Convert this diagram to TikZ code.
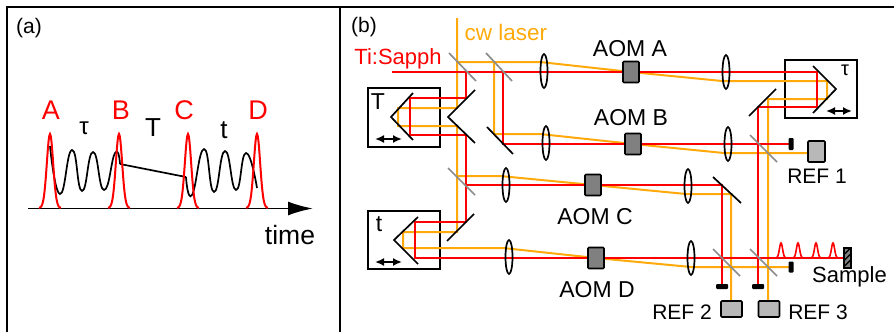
\documentclass[tikz,border=0pt]{standalone}
\usepackage{fontspec}
\setmainfont{Liberation Sans}
\usetikzlibrary{shapes.geometric,arrows.meta}

\tikzstyle{invisible} = [outer sep=0,inner sep=0,minimum size=0]
\tikzstyle{redbeam} = [draw=red, line width=2pt, line join=miter]
\tikzstyle{cwbeam} = [draw=orange1, line width=2pt, line join=miter]
\tikzstyle{pulse} = [draw=red, line width=2pt]
\tikzstyle{mirror} = [draw=black, line width=1.7pt]
\tikzstyle{splitter} = [draw=gray2, line width=1.7pt]
\tikzstyle{lens} = [draw=black, line width=1.7pt, ellipse, invisible, minimum width=7pt, minimum height=34pt]
\tikzstyle{aom} = [draw=black, fill=gray1, line width=1.7pt, rounded corners=1pt, invisible, minimum width=16pt, minimum height=21pt]
\tikzstyle{ref} = [draw=black, fill=gray3, line width=1.7pt, rounded corners=1pt, invisible]
\tikzstyle{stage} = [draw=black, line width=1.7pt, invisible]
\tikzstyle{dump} = [fill=black, rounded corners=1pt, invisible]
\tikzstyle{slide} = [{Latex[length=9pt,width=8pt]}-{Latex[length=9pt,width=8pt]}, draw=black, line width=1.7pt]
\definecolor{orange1}{RGB}{255,170,10}
\definecolor{gray1}{RGB}{128,128,128}
\definecolor{gray2}{RGB}{140,140,140}
\definecolor{gray3}{RGB}{184,184,184}

\begin{document}
\begin{tikzpicture}[x=1pt,y=-1pt]
\useasboundingbox (0,0) rectangle (894,332);

% PANELS
\draw[line width=1.9pt] (7,332) -- (7,7) -- (894,7);
\draw[line width=1.9pt] (340,7) -- (340,332);
\node at (29,28) {\fontsize{21pt}{24pt}\selectfont (a)};
\node at (364,27) {\fontsize{21pt}{24pt}\selectfont (b)};

% PANEL A
\coordinate (axis0) at (28,208.5);
\coordinate (axis1) at (313,208.5);
\draw[line width=1.8pt, -{Latex[length=25pt,width=14pt]}] (axis0) -- (axis1);
\draw[line width=1.7pt] plot[smooth, tension=0.9] coordinates {(50,146) (60,194) (72,150) (82,191) (93,152) (104,190) (115,153) (120,164)};
\draw[line width=1.7pt] (120,164) -- (186,177);
\draw[line width=1.7pt] plot[smooth, tension=0.9] coordinates {(186,177) (192,195) (204,149) (214,192) (225,151) (236,190) (246,153) (257,188)};
\foreach \px in {50,119,188,257}
  \draw[pulse] plot[domain=-11:11, samples=35, smooth] ({\px+\x},{208-74*exp(-(\x*\x)/20)});
\node[red] (pulseA) at (51,110) {\fontsize{27pt}{30pt}\selectfont A};
\node[red] (pulseB) at (121,110) {\fontsize{27pt}{30pt}\selectfont B};
\node[red] (pulseC) at (184,110) {\fontsize{27pt}{30pt}\selectfont C};
\node[red] (pulseD) at (258,110) {\fontsize{27pt}{30pt}\selectfont D};
\node (labtau) at (84,128) {\fontsize{24pt}{28pt}\selectfont τ};
\node (labT) at (153,128) {\fontsize{26pt}{28pt}\selectfont T};
\node (labt) at (224,130) {\fontsize{26pt}{28pt}\selectfont t};
\node (labtime) at (290,235) {\fontsize{26.5pt}{28pt}\selectfont time};

% BOXES
\node[stage, minimum width=72pt, minimum height=59pt] (boxT) at (404,117.5) {};
\node[stage, minimum width=72pt, minimum height=58pt] (boxt) at (404,240) {};
\node[stage, minimum width=72pt, minimum height=58pt] (boxtau) at (821,89) {};

% CW BEAM
\draw[cwbeam] (457,18) -- (457,108) -- (398,108) -- (398,126) -- (457,126) -- (457,232) -- (403,232) -- (403,248) -- (503,248) -- (596,258) -- (691,267) -- (791,267);
\draw[cwbeam] (457,62) -- (540,62) -- (631,72) -- (722,81) -- (827,81) -- (827,99) -- (768,99) -- (768,301);
\draw[cwbeam] (494,62) -- (494,134) -- (540,134) -- (633,144) -- (724,153) -- (808,153);
\draw[cwbeam] (457,176) -- (500,176) -- (593,185) -- (686,194) -- (731,194) -- (731,301);

% RED BEAM
\draw[redbeam] (392,72) -- (817,72) -- (817,107) -- (758,107) -- (758,286);
\draw[redbeam] (466,72) -- (466,98) -- (410,98) -- (410,135) -- (466,135) -- (466,222) -- (415,222) -- (415,258) -- (844,258);
\draw[redbeam] (503,72) -- (503,144) -- (791,144);
\draw[redbeam] (466,185) -- (722,185) -- (722,286);

% MIRRORS
\draw[mirror] (475,90) -- (448,117) -- (475,143);
\draw[mirror] (413,93) -- (391,117) -- (413,140);
\draw[mirror] (418,217) -- (394,240) -- (418,264);
\draw[mirror] (813,66) -- (836,89) -- (813,113);
\draw[mirror] (487,127) -- (513,154);
\draw[mirror] (447,241) -- (474,214);
\draw[mirror] (713,177) -- (741,203);
\draw[mirror] (749,116) -- (776,89);

% SPLITTERS
\draw[splitter] (449,53) -- (476,81);
\draw[splitter] (486,53) -- (512,81);
\draw[splitter] (448,168) -- (475,195);
\draw[splitter] (750,135) -- (777,162);
\draw[splitter] (713,249) -- (740,276);
\draw[splitter] (750,249) -- (777,276);

% LENSES
\node[lens] (lensA1) at (544,71) {};
\node[lens] (lensB1) at (546,143) {};
\node[lens] (lensC1) at (506,185) {};
\node[lens] (lensD1) at (509,257) {};
\node[lens] (lensA2) at (726,72) {};
\node[lens] (lensB2) at (728,144) {};
\node[lens] (lensC2) at (688,186) {};
\node[lens] (lensD2) at (691,258) {};

% AOM
\node[aom] (aomA) at (631,72) {};
\node[aom] (aomB) at (633,144) {};
\node[aom] (aomC) at (593,185) {};
\node[aom] (aomD) at (596,258) {};
\node (labA) at (630,49) {\fontsize{23pt}{26pt}\selectfont AOM A};
\node (labB) at (631,118) {\fontsize{23pt}{26pt}\selectfont AOM B};
\node (labC) at (595,217) {\fontsize{23pt}{26pt}\selectfont AOM C};
\node (labD) at (597,290) {\fontsize{23pt}{26pt}\selectfont AOM D};

% DETECTORS
\node[ref, minimum width=17pt, minimum height=21pt] (ref1) at (816.5,151.5) {};
\node[ref, minimum width=21pt, minimum height=16pt] (ref2) at (731.5,309) {};
\node[ref, minimum width=21pt, minimum height=16pt] (ref3) at (769,309) {};
\node (labref1) at (817,176) {\fontsize{21pt}{24pt}\selectfont REF 1};
\node (labref2) at (682,312) {\fontsize{21pt}{24pt}\selectfont REF 2};
\node (labref3) at (818,312) {\fontsize{21pt}{24pt}\selectfont REF 3};

% BLOCKS
\node[dump, minimum width=5pt, minimum height=12pt] (dump1) at (791,144) {};
\node[dump, minimum width=5pt, minimum height=11pt] (dump2) at (791,267) {};
\node[dump, minimum width=12pt, minimum height=5pt] (dump3) at (722,286.5) {};
\node[dump, minimum width=12pt, minimum height=5pt] (dump4) at (758,286.5) {};

% SAMPLE
\foreach \px in {781,798,816,833}
  \draw[red, line width=1.6pt] plot[domain=-5:5, samples=21, smooth] ({\px+\x},{258-15*exp(-(\x*\x)/5)});
\node[draw=black, fill=gray1, line width=1.4pt, invisible, minimum width=7pt, minimum height=20pt] (sample) at (847.5,258) {};
\foreach \hy in {254,260,266}
  \draw[black, line width=1.4pt] (844.5,\hy) -- (850.5,\hy-6);
\node (labsample) at (849.5,277) {\fontsize{22pt}{24pt}\selectfont Sample};

% STAGE LABELS
\draw[slide] (375,139) -- (402,139);
\draw[slide] (375,262) -- (402,262);
\draw[slide] (826,111) -- (852,111);
\node (labstT) at (378,102) {\fontsize{23pt}{26pt}\selectfont T};
\node (labstt) at (379,224) {\fontsize{23pt}{26pt}\selectfont t};
\node (labsttau) at (845,70) {\fontsize{20pt}{22pt}\selectfont τ};

\node[red] (labti) at (398,59) {\fontsize{22pt}{24pt}\selectfont Ti:Sapph};
\node[orange1] (labcw) at (506,32) {\fontsize{22.5pt}{26pt}\selectfont cw laser};
\end{tikzpicture}
\end{document}
